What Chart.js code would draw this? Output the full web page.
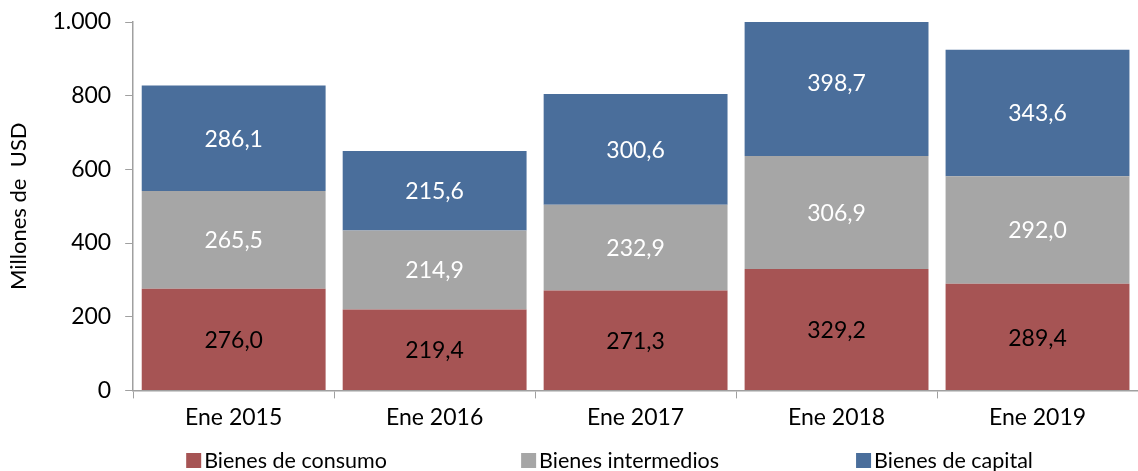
<!DOCTYPE html>
<html>
<head>
<meta charset="utf-8">
<script src="https://cdn.jsdelivr.net/npm/chart.js@4.4.1/dist/chart.umd.min.js"></script>
<style>
html,body{margin:0;padding:0;background:#fff;}
#wrap{position:relative;width:1138px;height:471px;}
</style>
</head>
<body>
<div id="wrap"><canvas id="c" width="1138" height="471"></canvas></div>
<script>
const categories = ['Ene 2015','Ene 2016','Ene 2017','Ene 2018','Ene 2019'];
const consumo = [276.0, 219.4, 271.3, 329.2, 289.4];
const intermedios = [265.5, 214.9, 232.9, 306.9, 292.0];
const capital = [286.1, 215.6, 300.6, 398.7, 343.6];
const yTicks = [0, 200, 400, 600, 800, 1000];

const FONT = 'Lato, "Open Sans", sans-serif';

const fmtVal = v => v.toFixed(1).replace('.', ',');
const fmtTick = v => v >= 1000 ? Math.floor(v/1000) + '.' + String(v%1000).padStart(3,'0') : String(v);

const labelPlugin = {
  id: 'barLabels',
  afterDatasetsDraw(chart) {
    const ctx = chart.ctx;
    ctx.save();
    ctx.font = '23px ' + FONT;
    ctx.textAlign = 'center';
    ctx.textBaseline = 'middle';
    chart.data.datasets.forEach((ds, di) => {
      const meta = chart.getDatasetMeta(di);
      meta.data.forEach((bar, i) => {
        const v = ds.data[i];
        const yTop = chart.scales.y.getPixelForValue(ds._start[i] + v);
        const yBot = chart.scales.y.getPixelForValue(ds._start[i]);
        ctx.fillStyle = ds.labelColor;
        ctx.fillText(fmtVal(v), bar.x, (yTop + yBot) / 2 + 1);
      });
    });
    ctx.restore();
  }
};

const legendPlugin = {
  id: 'spreadLegend',
  afterDraw(chart) {
    const ctx = chart.ctx;
    const a = chart.chartArea;
    const w = (a.right - a.left) / 3;
    const y = 460;
    ctx.save();
    ctx.font = '21.5px ' + FONT;
    ctx.textBaseline = 'middle';
    ctx.textAlign = 'left';
    chart.data.datasets.forEach((ds, i) => {
      const x = a.left + 53 + i * w;
      ctx.fillStyle = ds.backgroundColor;
      ctx.fillRect(x, y - 7, 15, 15);
      ctx.fillStyle = '#000';
      ctx.fillText(ds.label, x + 18, y + 1);
    });
    ctx.restore();
  }
};

const starts = [consumo.map(() => 0), consumo.slice(), consumo.map((v, i) => v + intermedios[i])];

new Chart(document.getElementById('c'), {
  type: 'bar',
  data: {
    labels: categories,
    datasets: [
      {label: 'Bienes de consumo', data: consumo, backgroundColor: '#A65454', labelColor: '#000', _start: starts[0]},
      {label: 'Bienes intermedios', data: intermedios, backgroundColor: '#A6A6A6', labelColor: '#fff', _start: starts[1]},
      {label: 'Bienes de capital', data: capital, backgroundColor: '#4A6E9B', labelColor: '#fff', _start: starts[2]}
    ]
  },
  options: {
    responsive: false,
    animation: false,
    events: [],
    layout: {padding: {top: 0, right: 0, left: 6, bottom: 35}},
    datasets: {bar: {categoryPercentage: 1.0, barPercentage: 0.915, borderWidth: 0}},
    scales: {
      x: {
        stacked: true,
        border: {color: '#A0A0A0', width: 1.5},
        grid: {display: true, drawOnChartArea: false, drawTicks: true, tickLength: 8, color: '#A0A0A0', offset: true},
        ticks: {color: '#000', font: {family: FONT, size: 23}, padding: 5}
      },
      y: {
        stacked: true,
        min: 0, max: 1000,
        afterBuildTicks(axis) { axis.ticks = yTicks.map(v => ({value: v})); },
        afterFit(axis) { axis.paddingTop = 22; },
        border: {color: '#A0A0A0', width: 1.5},
        grid: {display: true, drawOnChartArea: false, drawTicks: true, tickLength: 8, color: '#A0A0A0'},
        ticks: {color: '#000', font: {family: FONT, size: 23}, padding: 14, callback: v => fmtTick(v)},
        title: {display: true, text: 'Millones de  USD', color: '#000', font: {family: FONT, size: 22}, padding: {top: 0, bottom: 6}}
      }
    },
    plugins: {
      legend: {display: false},
      tooltip: {enabled: false}
    }
  },
  plugins: [labelPlugin, legendPlugin]
});
</script>
</body>
</html>
